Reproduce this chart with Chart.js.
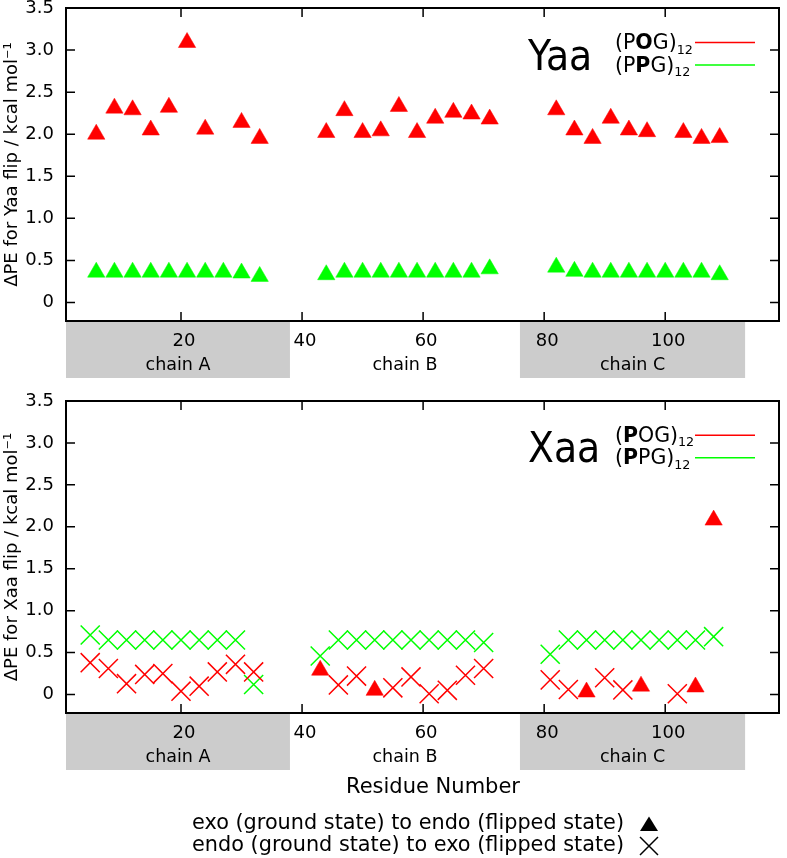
<!DOCTYPE html>
<html>
<head>
<meta charset="utf-8">
<script src="https://cdn.jsdelivr.net/npm/chart.js@4.4.1/dist/chart.umd.min.js"></script>
<style>
  html, body { margin: 0; padding: 0; background: #fff; }
  #wrap { position: relative; width: 787px; height: 858px; }
  canvas { position: absolute; left: 0; }
  #yaa { top: 0; width: 787px; height: 390px; }
  #xaa { top: 390px; width: 787px; height: 468px; }
</style>
</head>
<body>
<div id="wrap">
  <canvas id="yaa" width="787" height="390"></canvas>
  <canvas id="xaa" width="787" height="468"></canvas>
</div>
<script>
// axis setup
const xTicks = [20, 40, 60, 80, 100];
const yTicks = [0, 0.5, 1.0, 1.5, 2.0, 2.5, 3.0, 3.5];
const chainNames = ["chain A", "chain B", "chain C"];
const chainStart = [1, 38, 76];
const chainEnd = [38, 76, 113.2];
const chainShaded = [true, false, true];

// Yaa flips (top panel), all exo -> endo
const yaaPogX = [6, 9, 12, 15, 18, 21, 24, 30, 33,
  44, 47, 50, 53, 56, 59, 62, 65, 68, 71,
  82, 85, 88, 91, 94, 97, 103, 106, 109];
const yaaPogY = [2.00, 2.31, 2.29, 2.05, 2.32, 3.09, 2.06, 2.14, 1.95,
  2.02, 2.28, 2.02, 2.04, 2.33, 2.02, 2.19, 2.26, 2.24, 2.18,
  2.29, 2.05, 1.95, 2.19, 2.05, 2.03, 2.02, 1.95, 1.96];
const yaaPpgX = [6, 9, 12, 15, 18, 21, 24, 27, 30, 33,
  44, 47, 50, 53, 56, 59, 62, 65, 68, 71,
  82, 85, 88, 91, 94, 97, 100, 103, 106, 109];
const yaaPpgY = [0.36, 0.36, 0.36, 0.36, 0.36, 0.36, 0.36, 0.36, 0.35, 0.31,
  0.33, 0.36, 0.36, 0.36, 0.36, 0.36, 0.36, 0.36, 0.36, 0.40,
  0.42, 0.37, 0.36, 0.36, 0.36, 0.36, 0.36, 0.36, 0.36, 0.33];

// Xaa flips (bottom panel)
const xaaPogExoX = [43, 52, 87, 96, 105, 108];
const xaaPogExoY = [0.29, 0.05, 0.03, 0.10, 0.09, 2.08];
const xaaPogEndoX = [5, 8, 11, 14, 17, 20, 23, 26, 29, 32,
  46, 49, 55, 58, 61, 64, 67, 70,
  81, 84, 90, 93, 102];
const xaaPogEndoY = [0.38, 0.31, 0.13, 0.24, 0.25, 0.04, 0.10, 0.27, 0.36, 0.27,
  0.115, 0.22, 0.08, 0.21, 0.01, 0.05, 0.23, 0.31,
  0.175, 0.06, 0.20, 0.055, 0.01];
const xaaPpgEndoX = [5, 8, 11, 14, 17, 20, 23, 26, 29, 32,
  43, 46, 49, 52, 55, 58, 61, 64, 67, 70,
  81, 84, 87, 90, 93, 96, 99, 102, 105, 108];
const xaaPpgEndoY = [0.71, 0.65, 0.65, 0.65, 0.65, 0.65, 0.65, 0.65, 0.65, 0.12,
  0.46, 0.65, 0.65, 0.65, 0.65, 0.65, 0.65, 0.65, 0.65, 0.62,
  0.48, 0.65, 0.65, 0.65, 0.65, 0.65, 0.65, 0.65, 0.65, 0.69];

const RED = "#ff0000";
const GREEN = "#00ff00";
const FONT = '"DejaVu Sans", sans-serif';

Chart.defaults.font.family = FONT;
Chart.defaults.color = "#000";

const pts = (xs, ys) => xs.map((x, i) => ({ x: x, y: ys[i] }));

const tri = (label, xs, ys, color) => ({
  label, data: pts(xs, ys), pointStyle: "triangle", pointRadius: 10,
  backgroundColor: color, borderColor: color, borderWidth: 0.5, showLine: false,
});
const cross = (label, xs, ys, color) => ({
  label, data: pts(xs, ys), pointStyle: "crossRot", pointRadius: 13.5,
  backgroundColor: color, borderColor: color, borderWidth: 1.5, showLine: false,
});

function drawRich(ctx, parts, x, y, size) {
  parts.forEach((p) => {
    const sz = p.sub ? size * 0.62 : size;
    ctx.font = (p.bold ? "bold " : "") + sz + "px " + FONT;
    ctx.fillText(p.t, x, y + (p.sub ? size * 0.22 : 0));
    x += ctx.measureText(p.t).width;
  });
  return x;
}

// gnuplot look: inward ticks, framed box, chain boxes under the axis, key
const frame = {
  id: "frame",
  beforeDraw(chart) {
    const { ctx, chartArea: a, scales: { x } } = chart;
    ctx.save();
    chainNames.forEach((name, i) => {
      const l = x.getPixelForValue(chainStart[i]);
      const r = x.getPixelForValue(chainEnd[i]);
      if (chainShaded[i]) {
        ctx.fillStyle = "#cccccc";
        ctx.fillRect(l, a.bottom, r - l, 57);
      }
      ctx.fillStyle = "#000";
      ctx.font = "17.5px " + FONT;
      ctx.textAlign = "center";
      ctx.textBaseline = "middle";
      ctx.fillText(name, (l + r) / 2, a.bottom + 44.5);
    });
    ctx.restore();
  },
  afterDraw(chart) {
    const { ctx, chartArea: a, scales: { x, y } } = chart;
    const o = chart.options.plugins.frame;
    ctx.save();
    ctx.strokeStyle = "#000";
    ctx.lineWidth = 1.5;
    ctx.beginPath();
    x.ticks.forEach((t) => {
      const px = x.getPixelForValue(t.value);
      ctx.moveTo(px, a.bottom); ctx.lineTo(px, a.bottom - 9);
      ctx.moveTo(px, a.top); ctx.lineTo(px, a.top + 9);
    });
    y.ticks.forEach((t) => {
      const py = y.getPixelForValue(t.value);
      ctx.moveTo(a.left, py); ctx.lineTo(a.left + 9, py);
      ctx.moveTo(a.right, py); ctx.lineTo(a.right - 9, py);
    });
    ctx.stroke();
    ctx.lineWidth = 2;
    ctx.strokeRect(a.left, a.top, a.right - a.left, a.bottom - a.top);

    // key in the top right corner
    ctx.fillStyle = "#000";
    ctx.textAlign = "left";
    ctx.textBaseline = "alphabetic";
    ctx.save();
    ctx.translate(528, a.top + o.bigBase);
    ctx.scale(0.9, 1);
    ctx.font = "42px " + FONT;
    ctx.fillText(o.big, 0, 0);
    ctx.restore();
    o.keys.forEach((k, i) => {
      const base = a.top + o.keyBase + i * 22.5;
      drawRich(ctx, k.parts, 615, base, 20.5);
      ctx.strokeStyle = k.color;
      ctx.lineWidth = 1.5;
      ctx.beginPath();
      ctx.moveTo(695, base - 6.5);
      ctx.lineTo(755, base - 6.5);
      ctx.stroke();
    });

    if (o.footer) {
      ctx.fillStyle = "#000";
      ctx.font = "21px " + FONT;
      ctx.textAlign = "center";
      ctx.textBaseline = "middle";
      ctx.fillText("Residue Number", 433, 398);
      ctx.font = "20.8px " + FONT;
      ctx.textAlign = "right";
      ctx.fillText("exo (ground state) to endo (flipped state)", 624, 434);
      ctx.fillText("endo (ground state) to exo (flipped state)", 624, 456);
      // black sample markers
      ctx.beginPath();
      ctx.moveTo(649, 426.5); ctx.lineTo(658, 441); ctx.lineTo(640, 441);
      ctx.closePath();
      ctx.fill();
      ctx.strokeStyle = "#000";
      ctx.lineWidth = 1.5;
      ctx.beginPath();
      ctx.moveTo(640, 447); ctx.lineTo(658, 465);
      ctx.moveTo(658, 447); ctx.lineTo(640, 465);
      ctx.stroke();
    }
    ctx.restore();
  },
};

function makeChart(id, datasets, yTitle, h, areaTop, areaBottom, opts) {
  return new Chart(document.getElementById(id), {
    type: "scatter",
    data: { datasets },
    options: {
      responsive: false,
      animation: false,
      events: [],
      layout: { autoPadding: false, padding: { top: areaTop, right: 8, left: 0, bottom: 0 } },
      plugins: { legend: { display: false }, tooltip: { enabled: false }, frame: opts },
      scales: {
        x: {
          type: "linear", min: 1, max: 118.8,
          grid: { display: false, drawTicks: false },
          border: { display: false },
          afterBuildTicks: (s) => { s.ticks = xTicks.map((v) => ({ value: v })); },
          afterFit: (s) => { s.height = h - areaBottom; s.paddingLeft = 0; s.paddingRight = 0; },
          ticks: { padding: 10, labelOffset: 3, font: { size: 18 }, maxRotation: 0, autoSkip: false },
        },
        y: {
          type: "linear", min: -0.22, max: 3.5,
          grid: { display: false, drawTicks: false },
          border: { display: false },
          afterBuildTicks: (s) => { s.ticks = yTicks.map((v) => ({ value: v })); },
          afterFit: (s) => { s.width = 66; s.paddingTop = 0; s.paddingBottom = 0; },
          ticks: {
            padding: 12, font: { size: 18 },
            callback: (v) => (v === 0 ? "0" : v.toFixed(1)),
          },
          title: { display: true, text: yTitle, font: { size: 18 }, padding: { top: 2, bottom: 0 } },
        },
      },
    },
    plugins: [frame],
  });
}

makeChart("yaa", [
  tri("(POG)12", yaaPogX, yaaPogY, RED),
  tri("(PPG)12", yaaPpgX, yaaPpgY, GREEN),
], "\u0394PE for Yaa flip / kcal mol\u207B\u00B9", 390, 8, 321, {
  big: "Yaa", bigBase: 62, keyBase: 41,
  keys: [
    { color: RED, parts: [{ t: "(P" }, { t: "O", bold: true }, { t: "G)" }, { t: "12", sub: true }] },
    { color: GREEN, parts: [{ t: "(P" }, { t: "P", bold: true }, { t: "G)" }, { t: "12", sub: true }] },
  ],
});

makeChart("xaa", [
  cross("(POG)12 endo", xaaPogEndoX, xaaPogEndoY, RED),
  tri("(POG)12 exo", xaaPogExoX, xaaPogExoY, RED),
  cross("(PPG)12 endo", xaaPpgEndoX, xaaPpgEndoY, GREEN),
], "\u0394PE for Xaa flip / kcal mol\u207B\u00B9", 468, 11, 323, {
  big: "Xaa", bigBase: 60.7, keyBase: 40.7, footer: true,
  keys: [
    { color: RED, parts: [{ t: "(" }, { t: "P", bold: true }, { t: "OG)" }, { t: "12", sub: true }] },
    { color: GREEN, parts: [{ t: "(" }, { t: "P", bold: true }, { t: "PG)" }, { t: "12", sub: true }] },
  ],
});
</script>
</body>
</html>
